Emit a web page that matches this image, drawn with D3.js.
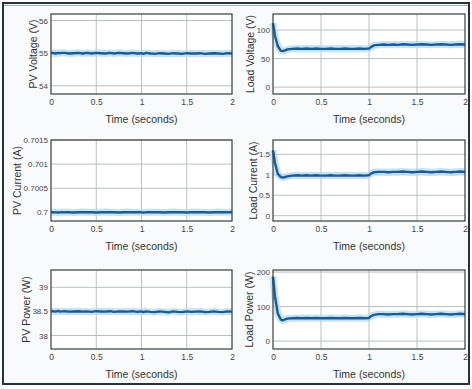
<!DOCTYPE html>
<html><head><meta charset="utf-8">
<script src="https://cdn.jsdelivr.net/npm/d3@7"></script>
<style>
html,body{margin:0;padding:0;background:#fff;}
svg{display:block;font-family:"Liberation Sans",Arial,sans-serif;}
</style></head>
<body>
<svg id="c" width="472" height="389"></svg>
<script>
const time = [0,0.02,0.05,0.08,0.1,0.12,0.15,0.2,0.25,0.3,0.35,0.4,0.45,0.5,0.55,0.6,0.65,0.7,0.75,0.8,0.85,0.9,0.95,1.0,1.02,1.05,1.1,1.15,1.2,1.25,1.3,1.35,1.4,1.45,1.5,1.55,1.6,1.65,1.7,1.75,1.8,1.85,1.9,1.95,2.0];

const pvVoltage = [55,55.01,54.99,55.01,55,55.01,55.01,54.99,55,55.01,54.99,55.01,54.99,55.01,55,54.99,55.01,54.99,55.01,55,54.99,55.01,54.99,55,54.98,55.01,54.99,54.98,55,54.99,54.98,55,54.99,54.98,55,54.99,54.99,55,54.98,54.99,55,54.99,54.98,55,54.99];
const loadVoltage = [112,90,72,64,63,64,66,67,67.5,67,67.5,67,67.5,67,67,67.5,67,67,67.5,67,67,67.5,67,67.5,70,73,74,74.5,74,74.5,74,75,74.5,74,74.5,75,74.5,74,74.5,75,74.5,74,74.5,75,74.5];
const pvCurrent = [0.7,0.700005,0.7,0.699995,0.7,0.700005,0.7,0.7,0.699995,0.7,0.700005,0.7,0.7,0.699995,0.7,0.700005,0.7,0.7,0.699995,0.7,0.700005,0.7,0.7,0.7,0.699995,0.7,0.700005,0.7,0.7,0.699995,0.7,0.700005,0.7,0.7,0.699995,0.7,0.700005,0.7,0.7,0.699995,0.7,0.700005,0.7,0.7,0.7];
const loadCurrent = [1.6,1.3,1.02,0.95,0.93,0.94,0.96,0.98,0.99,0.98,0.99,0.98,0.99,0.98,0.98,0.99,0.98,0.98,0.99,0.98,0.98,0.99,0.98,0.99,1.03,1.06,1.07,1.07,1.06,1.07,1.07,1.08,1.07,1.06,1.07,1.08,1.07,1.06,1.07,1.08,1.07,1.06,1.07,1.08,1.07];
const pvPower = [38.5,38.505,38.495,38.51,38.495,38.5,38.505,38.495,38.5,38.505,38.495,38.5,38.49,38.505,38.5,38.495,38.505,38.49,38.5,38.5,38.495,38.505,38.49,38.5,38.485,38.5,38.49,38.485,38.5,38.49,38.48,38.5,38.49,38.485,38.5,38.49,38.495,38.5,38.485,38.49,38.5,38.49,38.485,38.5,38.495];
const loadPower = [187,130,80,63,60,62,65,66,67,66,67,66,67,66,66,67,66,66,67,66,66,67,66,67,72,76,78,78,77,78,78,79,78,77,78,79,78,77,78,79,78,77,78,79,78];

const xTicks = [0,0.5,1,1.5,2];
const xTickLabels = ["0","0.5","1","1.5","2"];
const xTitle = "Time (seconds)";

const panelTitles = ["PV Voltage (V)","Load Voltage (V)","PV Current (A)","Load Current (A)","PV Power (W)","Load Power (W)"];
const panelSeries = [pvVoltage, loadVoltage, pvCurrent, loadCurrent, pvPower, loadPower];
const yDomains = [[53.75,56.2],[-12,128],[0.69982,0.7015],[-0.13,1.85],[37.72,39.36],[-23,206]];
const yTicks = [[54,55,56],[0,50,100],[0.7,0.7005,0.701,0.7015],[0,0.5,1,1.5],[38,38.5,39],[0,100,200]];
const yTickLabels = [["54","55","56"],["0","50","100"],["0.7","0.7005","0.701","0.7015"],["0","0.5","1","1.5"],["38","38.5","39"],["0","100","200"]];

const svg = d3.select("#c");
svg.append("rect").attr("x",0).attr("y",0).attr("width",472).attr("height",389).attr("fill","#ffffff");
svg.append("rect").attr("x",3).attr("y",3).attr("width",466).attr("height",381)
  .attr("fill","#f8fafb").attr("stroke","#26323c").attr("stroke-width",2);
svg.append("line").attr("x1",4).attr("x2",468).attr("y1",5.5).attr("y2",5.5).attr("stroke","#9fb3c2").attr("stroke-width",1);

const cols = [[51,232],[273,465]];
const rows = [[14,94],[140,221],[270,349]];
const labelX = [37,254,21,257,30,253];

panelSeries.forEach((series, i) => {
  const c = cols[i % 2], r = rows[Math.floor(i / 2)];
  const x = d3.scaleLinear().domain([0,2]).range(c);
  const y = d3.scaleLinear().domain(yDomains[i]).range([r[1], r[0]]);
  const g = svg.append("g");
  g.append("rect").attr("x",c[0]).attr("y",r[0]).attr("width",c[1]-c[0]).attr("height",r[1]-r[0]).attr("fill","#fff");
  g.selectAll(".vg").data(xTicks.slice(1,-1)).join("line")
    .attr("x1",d=>x(d)).attr("x2",d=>x(d)).attr("y1",r[0]).attr("y2",r[1])
    .attr("stroke","#b9bec2").attr("stroke-width",1);
  g.selectAll(".hg").data(yTicks[i]).join("line")
    .attr("x1",c[0]).attr("x2",c[1]).attr("y1",d=>y(d)).attr("y2",d=>y(d))
    .attr("stroke","#b9bec2").attr("stroke-width",1);
  const line = d3.line().x((d,k)=>x(time[k])).y(d=>y(d));
  g.append("path").datum(series).attr("d",line).attr("fill","none")
    .attr("stroke","#b5dcf3").attr("stroke-width",7).attr("stroke-opacity",0.8).attr("stroke-linejoin","round");
  g.append("path").datum(series).attr("d",line).attr("fill","none")
    .attr("stroke","#1d5a92").attr("stroke-width",2.4).attr("stroke-linejoin","round");
  g.append("rect").attr("x",c[0]).attr("y",r[0]).attr("width",c[1]-c[0]).attr("height",r[1]-r[0])
    .attr("fill","none").attr("stroke","#3a3f44").attr("stroke-width",1.2);
  const xa = d3.axisBottom(x).tickValues(xTicks).tickFormat((d,k)=>xTickLabels[k]).tickSize(0).tickPadding(5);
  g.append("g").attr("transform",`translate(0,${r[1]})`).call(xa)
    .call(s=>s.select(".domain").remove())
    .selectAll("text").attr("font-size",8.5).attr("fill","#444");
  const ya = d3.axisLeft(y).tickValues(yTicks[i]).tickFormat((d,k)=>yTickLabels[i][k]).tickSize(0).tickPadding(3);
  g.append("g").attr("transform",`translate(${c[0]},0)`).call(ya)
    .call(s=>s.select(".domain").remove())
    .selectAll("text").attr("font-size",8).attr("fill","#444");
  g.append("text").attr("x",(c[0]+c[1])/2).attr("y",r[1]+29).attr("text-anchor","middle")
    .attr("font-size",10.5).attr("fill","#333").text(xTitle);
  g.append("text").attr("transform",`translate(${labelX[i]},${(r[0]+r[1])/2}) rotate(-90)`)
    .attr("text-anchor","middle").attr("font-size",10.5).attr("fill","#333").text(panelTitles[i]);
});
</script>
</body></html>
